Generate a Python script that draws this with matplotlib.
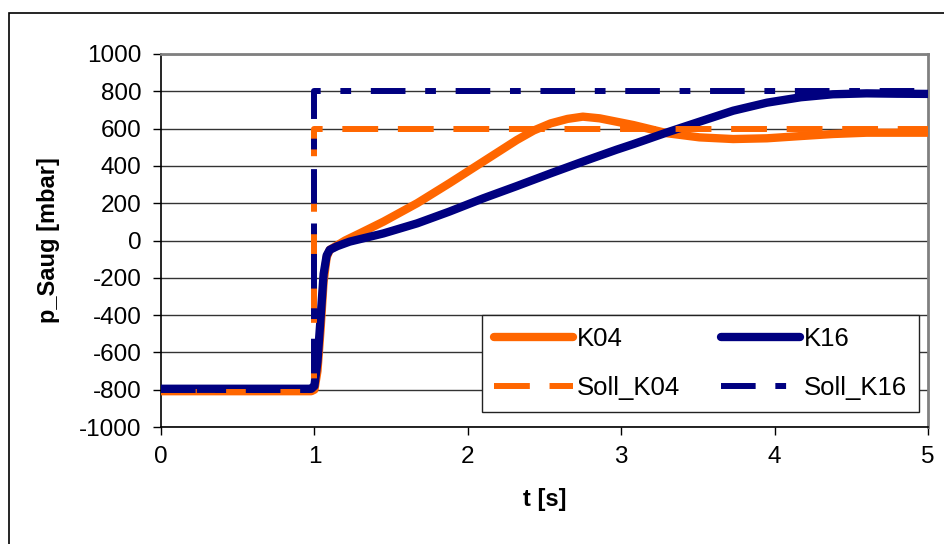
import matplotlib
matplotlib.use("Agg")
import matplotlib.pyplot as plt
from matplotlib.patches import Rectangle

t_k04 = [0, 0.5, 0.98, 1.0, 1.02, 1.04, 1.06, 1.08, 1.1, 1.15, 1.2, 1.3, 1.45, 1.67,
         1.88, 2.1, 2.32, 2.43, 2.54, 2.65, 2.75, 2.86, 2.97, 3.08, 3.2, 3.3, 3.51,
         3.73, 3.95, 4.17, 4.38, 4.6, 4.8, 5.0]
p_k04 = [-808, -808, -808, -800, -700, -480, -220, -90, -50, -25, 0, 40, 101, 200,
         307, 423, 539, 590, 628, 652, 664, 655, 637, 619, 595, 575, 553,
         544, 548, 560, 571, 578, 578, 578]

t_k16 = [0, 0.5, 0.98, 1.0, 1.02, 1.04, 1.06, 1.08, 1.1, 1.15, 1.23, 1.45, 1.67,
         1.88, 2.1, 2.32, 2.54, 2.75, 2.97, 3.08, 3.3, 3.51, 3.73, 3.95, 4.17,
         4.38, 4.6, 4.8, 5.0]
p_k16 = [-795, -795, -795, -780, -650, -420, -180, -80, -50, -30, -6, 38, 92,
         155, 226, 292, 360, 423, 487, 517, 580, 637, 696, 739, 768,
         784, 789, 787, 786]

# Sollwerte
t_soll = [0, 1.0, 1.0, 5.0]
soll_k04 = [-810, -810, 600, 600]
soll_k16 = [-800, -800, 800, 800]

orange = "#FF6600"
navy = "#000080"

plt.rcParams['font.family'] = ['Liberation Sans', 'DejaVu Sans']
plt.rcParams['axes.unicode_minus'] = False

fig = plt.figure(figsize=(9.44, 5.44), dpi=100)
ax = fig.add_axes([161 / 944, 1 - 427 / 544, 767 / 944, 373 / 544])

# Rahmen um das Diagramm
fig.add_artist(Rectangle((9 / 944, -0.2), 1.2, 1 - 13 / 544 + 0.2,
                         transform=fig.transFigure, fill=False,
                         edgecolor="black", linewidth=1.2, clip_on=False))

lw = 4.3
ax.plot(t_k04, p_k04, color=orange, lw=6, solid_capstyle="round", label="K04", zorder=3)
ax.plot(t_k16, p_k16, color=navy, lw=6, solid_capstyle="round", label="K16", zorder=4)
l3, = ax.plot(t_soll, soll_k04, color=orange, lw=lw, label="Soll_K04", zorder=5)
l3.set_dashes([6.0, 3.3])
l3.set_dash_capstyle("butt")
l4, = ax.plot(t_soll, soll_k16, color=navy, lw=lw, label="Soll_K16", zorder=6)
l4.set_dashes([5.8, 3.3, 1.8, 3.3])
l4.set_dash_capstyle("butt")

ax.set_xlim(0, 5)
ax.set_ylim(-1000, 1000)
ax.set_xticks(range(0, 6))
ax.set_yticks(range(-1000, 1001, 200))
ax.yaxis.grid(True, color="#333333", lw=1)
ax.set_axisbelow(True)

for s in ["top", "right"]:
    ax.spines[s].set_color("#808080")
    ax.spines[s].set_linewidth(2)
for s in ["left", "bottom"]:
    ax.spines[s].set_color("black")
    ax.spines[s].set_linewidth(1.2)

ax.tick_params(direction="out", length=6, width=1, labelsize=17.5, pad=8)
ax.set_xlabel("t [s]", fontsize=17, fontweight="bold", labelpad=14)
ax.set_ylabel("p_Saug [mbar]", fontsize=17, fontweight="bold", labelpad=14)

h, lab = ax.get_legend_handles_labels()
order = [0, 2, 1, 3]
leg = ax.legend([h[i] for i in order], [lab[i] for i in order], ncol=2,
                loc="upper left", bbox_to_anchor=(0.4185, 0.0375, 0.5697, 0.2628),
                mode="expand", fontsize=18.5, handlelength=3.1, handletextpad=0.15,
                fancybox=False, framealpha=1, borderaxespad=0, labelspacing=1.0,
                borderpad=0.45, columnspacing=1.2)
leg.get_frame().set_edgecolor("#222222")
leg.get_frame().set_linewidth(1)
leg.set_zorder(10)

fig.savefig("out.png", dpi=100)
